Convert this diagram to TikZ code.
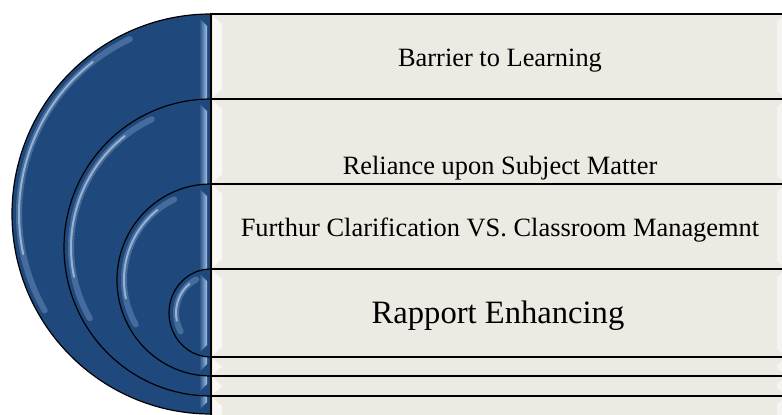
\documentclass[tikz,border=0pt]{standalone}
\usepackage{fontspec}
\setmainfont{Liberation Serif}
\definecolor{ringblue}{RGB}{31,73,125}
\definecolor{ringlight}{RGB}{160,192,232}
\definecolor{rowfill}{RGB}{236,234,226}
\tikzset{
  rowbox/.style={fill=rowfill,draw=black,line width=0.7pt},
  ring/.style={fill=ringblue,draw=black,line width=0.6pt},
  label/.style={anchor=base,inner sep=0pt,font=\fontsize{13.2}{15}\selectfont},
  biglabel/.style={label,font=\fontsize{16.3}{19}\selectfont}
}
\begin{document}
\begin{tikzpicture}[x=0.5pt,y=0.5pt,line cap=round]
        \useasboundingbox (0,0) rectangle (782,414);
        \clip (0,0) rectangle (782,414);

        % draw the rows
        \foreach \top/\bot in {400/315,315/230,230/145,145/57,57/38,38/18,18/-20} {
                \draw[rowbox] (211,\top) rectangle (790,\bot);
                % bevel at the left of each row
                \fill[white,opacity=0.7] (213,\top-2) -- (222,\top-10) -- (222,\bot+10) -- (213,\bot+2) -- cycle;
                \fill[white,opacity=0.5] (777,\top-8) -- (782,\top-4) -- (782,\bot+4) -- (777,\bot+8) -- cycle;
        }

        % draw the half rings
        \foreach \cy/\rx/\ry in {200/199/200,166.5/147/148.5,134/94/96,101/42/44} {
                \draw[ring] (211,\cy+\ry) arc[start angle=90,end angle=270,x radius=\rx,y radius=\ry] -- cycle;
                % light strip along the straight side
                \shade[left color=ringblue,right color=ringlight] (199,\cy+\ry-4) -- (207,\cy+\ry-12) -- (207,\cy-\ry+12) -- (199,\cy-\ry+4) -- cycle;
                % gloss on the curved side
                \draw[ringlight,line width=3pt,opacity=0.3] (211,\cy) ++(115:\rx-7 and \ry-7) arc[start angle=115,end angle=210,x radius=\rx-7,y radius=\ry-7];
                \draw[ringlight!50!white,line width=1pt,opacity=0.6] (211,\cy) ++(128:\rx-7 and \ry-7) arc[start angle=128,end angle=192,x radius=\rx-7,y radius=\ry-7];
                % redraw the straight side
                \draw[black,line width=0.7pt] (211,\cy+\ry) -- (211,\cy-\ry);
        }
        \draw[black,line width=0.7pt] (211,400) -- (211,0);

        % draw the labels
        \node[label] (barrier) at (500,348) {Barrier to Learning};
        \node[label] (reliance) at (500,240) {Reliance upon Subject Matter};
        \node[label] (clarify) at (500,178) {Furthur Clarification VS. Classroom Managemnt};
        \node[biglabel] (rapport) at (498,91) {Rapport Enhancing};
\end{tikzpicture}
\end{document}
